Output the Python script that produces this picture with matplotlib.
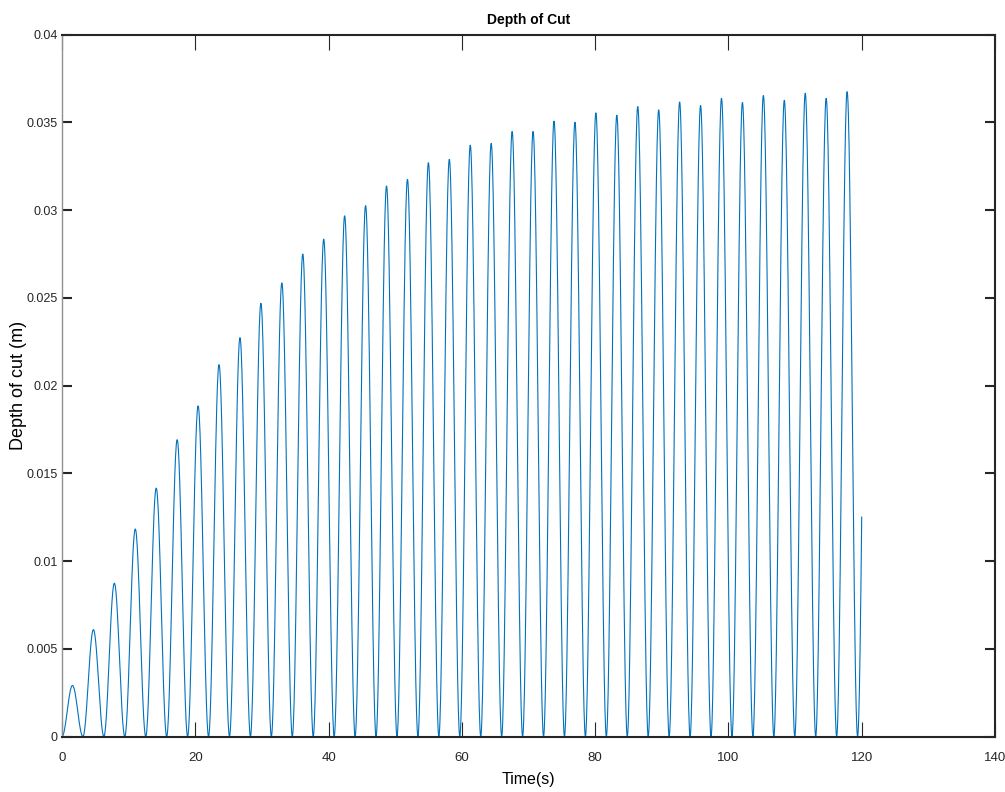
import numpy as np
import matplotlib.pyplot as plt

# peak depth of cut (m) of each half-cycle, one cycle every pi seconds
peak_depth = [0.00291, 0.00609, 0.00874, 0.01183, 0.01416, 0.01692, 0.01885,
              0.02120, 0.02274, 0.02470, 0.02586, 0.02751, 0.02836, 0.02969,
              0.03027, 0.03139, 0.03177, 0.03272, 0.03291, 0.03372, 0.03382,
              0.03450, 0.03450, 0.03509, 0.03503, 0.03556, 0.03543, 0.03592,
              0.03573, 0.03618, 0.03598, 0.03639, 0.03615, 0.03655, 0.03628,
              0.03668, 0.03639, 0.03677, 0.03710]
t_end = 120.0

x_ticks = [0, 20, 40, 60, 80, 100, 120, 140]
y_ticks = [0, 0.005, 0.01, 0.015, 0.02, 0.025, 0.03, 0.035, 0.04]
y_tick_labels = ['0', '0.005', '0.01', '0.015', '0.02', '0.025', '0.03',
                 '0.035', '0.04']

# build the signal lobe by lobe
t_parts, d_parts = [], []
for i, a in enumerate(peak_depth):
    t0 = i * np.pi
    t1 = min((i + 1) * np.pi, t_end)
    if t0 >= t_end:
        break
    tt = np.linspace(t0, t1, 60)
    t_parts.append(tt)
    d_parts.append(a * np.sin(tt) ** 2)
t = np.concatenate(t_parts)
depth = np.concatenate(d_parts)

font = 'Liberation Sans'

fig = plt.figure(figsize=(10.05, 7.92), dpi=100)
ax = fig.add_axes([62 / 1005, 1 - 736.5 / 792, 933 / 1005, 701.8 / 792])

ax.plot(t, depth, color='#0072BD', lw=0.8)

ax.set_xlim(0, 140)
ax.set_ylim(0, 0.04)
ax.set_xticks(x_ticks)
ax.set_xticklabels([str(v) for v in x_ticks], family=font, fontsize=9.5)
ax.set_yticks(y_ticks)
ax.set_yticklabels(y_tick_labels, family=font, fontsize=9)

ax.tick_params(axis='x', direction='in', length=10.8, width=0.8, pad=11,
               top=True, colors='#262626')
ax.tick_params(axis='y', direction='in', length=7.2, width=1.5, pad=3,
               right=True, colors='#262626')

for side in ['top', 'bottom', 'right']:
    ax.spines[side].set_color('#262626')
    ax.spines[side].set_linewidth(1.5)
ax.spines['left'].set_color('#909090')
ax.spines['left'].set_linewidth(1.0)

ax.set_title('Depth of Cut', fontsize=10, fontweight='bold',
             family=font, pad=8)
ax.set_xlabel('Time(s)', family=font, fontsize=11.5)
ax.set_ylabel('Depth of cut (m)', family=font, fontsize=13)
ax.xaxis.set_label_coords(0.5, -0.051)
ax.xaxis.label.set_va('top')
ax.yaxis.set_label_coords(-0.0375, 0.5)

fig.savefig('out.png', dpi=100)
